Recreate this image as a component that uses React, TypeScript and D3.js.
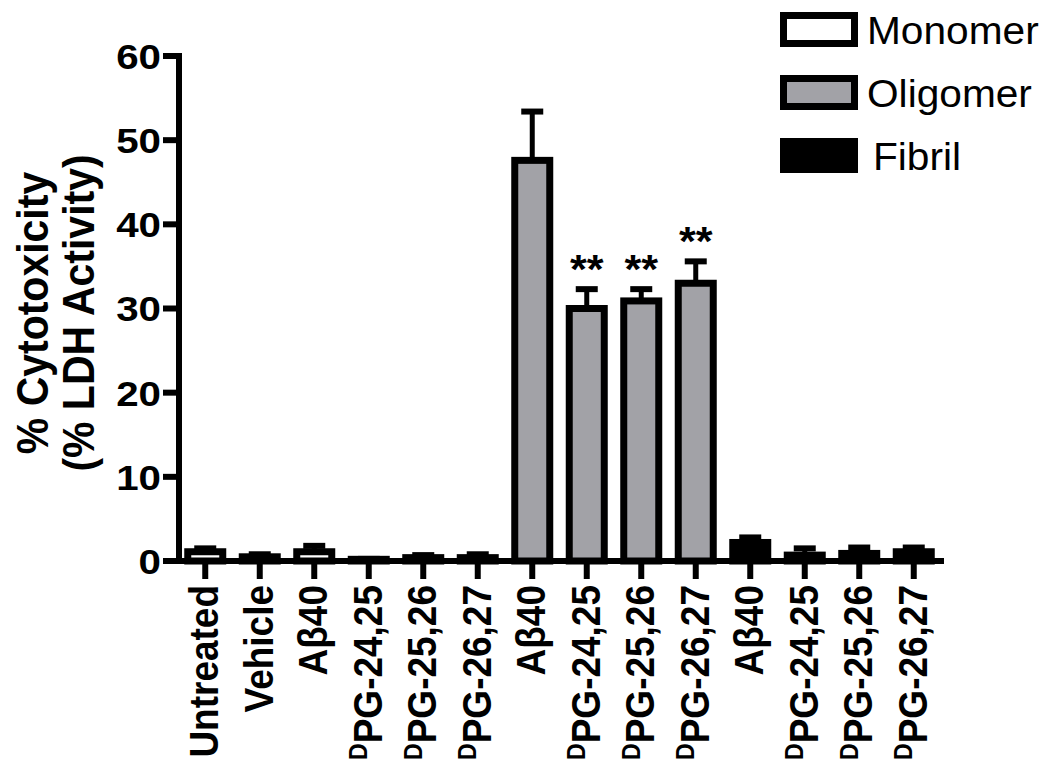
import React from "react";
import * as d3 from "d3";

const categories = [
  "Untreated", "Vehicle", "Aβ40", "DPG-24,25", "DPG-25,26", "DPG-26,27",
  "Aβ40", "DPG-24,25", "DPG-25,26", "DPG-26,27",
  "Aβ40", "DPG-24,25", "DPG-25,26", "DPG-26,27",
];
const groups = [
  "Monomer", "Monomer", "Monomer", "Monomer", "Monomer", "Monomer",
  "Oligomer", "Oligomer", "Oligomer", "Oligomer",
  "Fibril", "Fibril", "Fibril", "Fibril",
];
const values = [1.1, 0.5, 1.1, 0.2, 0.4, 0.4, 47.6, 30.0, 30.9, 33.0, 2.2, 0.7, 0.9, 1.1];
const errors = [0.4, 0.3, 0.7, 0.05, 0.3, 0.4, 5.8, 2.3, 1.4, 2.6, 0.6, 0.8, 0.7, 0.5];
const significant = [false, false, false, false, false, false, false, true, true, true, false, false, false, false];
const yTicks = [0, 10, 20, 30, 40, 50, 60];
const legendItems = ["Monomer", "Oligomer", "Fibril"];
const legendFills = ["#ffffff", "#a2a2a7", "#000000"];
const yTitle = ["% Cytotoxicity", "(% LDH Activity)"];

const FONT = "'Liberation Sans', Arial, Helvetica, sans-serif";

export default function App() {
  const W = 1050, H = 779;
  const x = d3.scaleBand<number>()
    .domain(categories.map((_, i) => i))
    .range([178, 941])
    .paddingInner(0)
    .paddingOuter(0);
  const y = d3.scaleLinear().domain([0, 60]).range([561, 56]);
  const color = d3.scaleOrdinal<string, string>().domain(legendItems).range(legendFills);
  const step = x.bandwidth();
  const barW = 35;
  const sw = 7;
  const capW = 22;

  const renderLabel = (lab: string, i: number) => {
    const cx = x(i)! + step / 2;
    const isD = lab.startsWith("D");
    return (
      <text
        key={"xl" + i}
        transform={`translate(${cx + 13},585) scale(1.1,1) rotate(-90)`}
        textAnchor="end"
        fontFamily={FONT}
        fontWeight="bold"
        fontSize={37}
        fill="#000"
      >
        {isD ? (
          <>
            <tspan fontSize={23} dy={-13}>D</tspan>
            <tspan dy={13}>{lab.slice(1)}</tspan>
          </>
        ) : (
          lab
        )}
      </text>
    );
  };

  return (
    <svg width={W} height={H} style={{ position: "absolute", left: 0, top: 0, background: "#fff" }}>
      <rect x={0} y={0} width={W} height={H} fill="#fff" />
      {/* Bars */}
      {values.map((v, i) => {
        const cx = x(i)! + step / 2;
        const top = y(v);
        return (
          <g key={"b" + i}>
            <line x1={cx} x2={cx} y1={y(v)} y2={y(v + errors[i])} stroke="#000" strokeWidth={5} />
            <line x1={cx - capW / 2} x2={cx + capW / 2} y1={y(v + errors[i])} y2={y(v + errors[i])} stroke="#000" strokeWidth={6} />
            <rect
              x={cx - barW / 2}
              y={top}
              width={barW}
              height={Math.max(0, y(0) - top)}
              fill={color(groups[i])}
              stroke="#000"
              strokeWidth={sw}
            />
            {significant[i] && (
              <text
                transform={`translate(${cx},${y(v + errors[i]) - 6}) scale(1.08,1)`}
                textAnchor="middle"
                fontFamily={FONT}
                fontWeight="bold"
                fontSize={40}
              >
                **
              </text>
            )}
          </g>
        );
      })}
      {/* Y axis */}
      <line x1={179} x2={179} y1={y(60) - 3} y2={y(0) + 3} stroke="#000" strokeWidth={6} />
      {yTicks.map((t) => (
        <g key={"yt" + t}>
          <line x1={163} x2={179} y1={y(t)} y2={y(t)} stroke="#000" strokeWidth={6} />
          <text
            transform={`translate(161,${y(t)}) scale(1.12,1)`}
            dy="0.36em"
            textAnchor="end"
            fontFamily={FONT}
            fontWeight="bold"
            fontSize={36}
          >
            {t}
          </text>
        </g>
      ))}
      {/* X axis */}
      <line x1={163} x2={944} y1={y(0)} y2={y(0)} stroke="#000" strokeWidth={6} />
      {categories.map((_, i) => {
        const cx = x(i)! + step / 2;
        return <line key={"xt" + i} x1={cx} x2={cx} y1={y(0)} y2={y(0) + 18} stroke="#000" strokeWidth={6} />;
      })}
      {categories.map(renderLabel)}
      {/* Y title */}
      {yTitle.map((t, i) => (
        <text
          key={"yti" + i}
          transform={`translate(${48 + i * 46},${313}) scale(1.1,1) rotate(-90)`}
          textAnchor="middle"
          fontFamily={FONT}
          fontWeight="bold"
          fontSize={41}
        >
          {t}
        </text>
      ))}
      {/* Legend */}
      {legendItems.map((l, i) => (
        <g key={"lg" + i}>
          <rect
            x={783.5}
            y={15.5 + i * 63}
            width={71}
            height={28}
            fill={legendFills[i]}
            stroke="#000"
            strokeWidth={7}
          />
          <text
            transform={`translate(${l === "Fibril" ? 873 : 867},${30 + i * 63}) scale(1.07,1)`}
            dy="0.36em"
            fontFamily={FONT}
            fontSize={38}
          >
            {l}
          </text>
        </g>
      ))}
    </svg>
  );
}
